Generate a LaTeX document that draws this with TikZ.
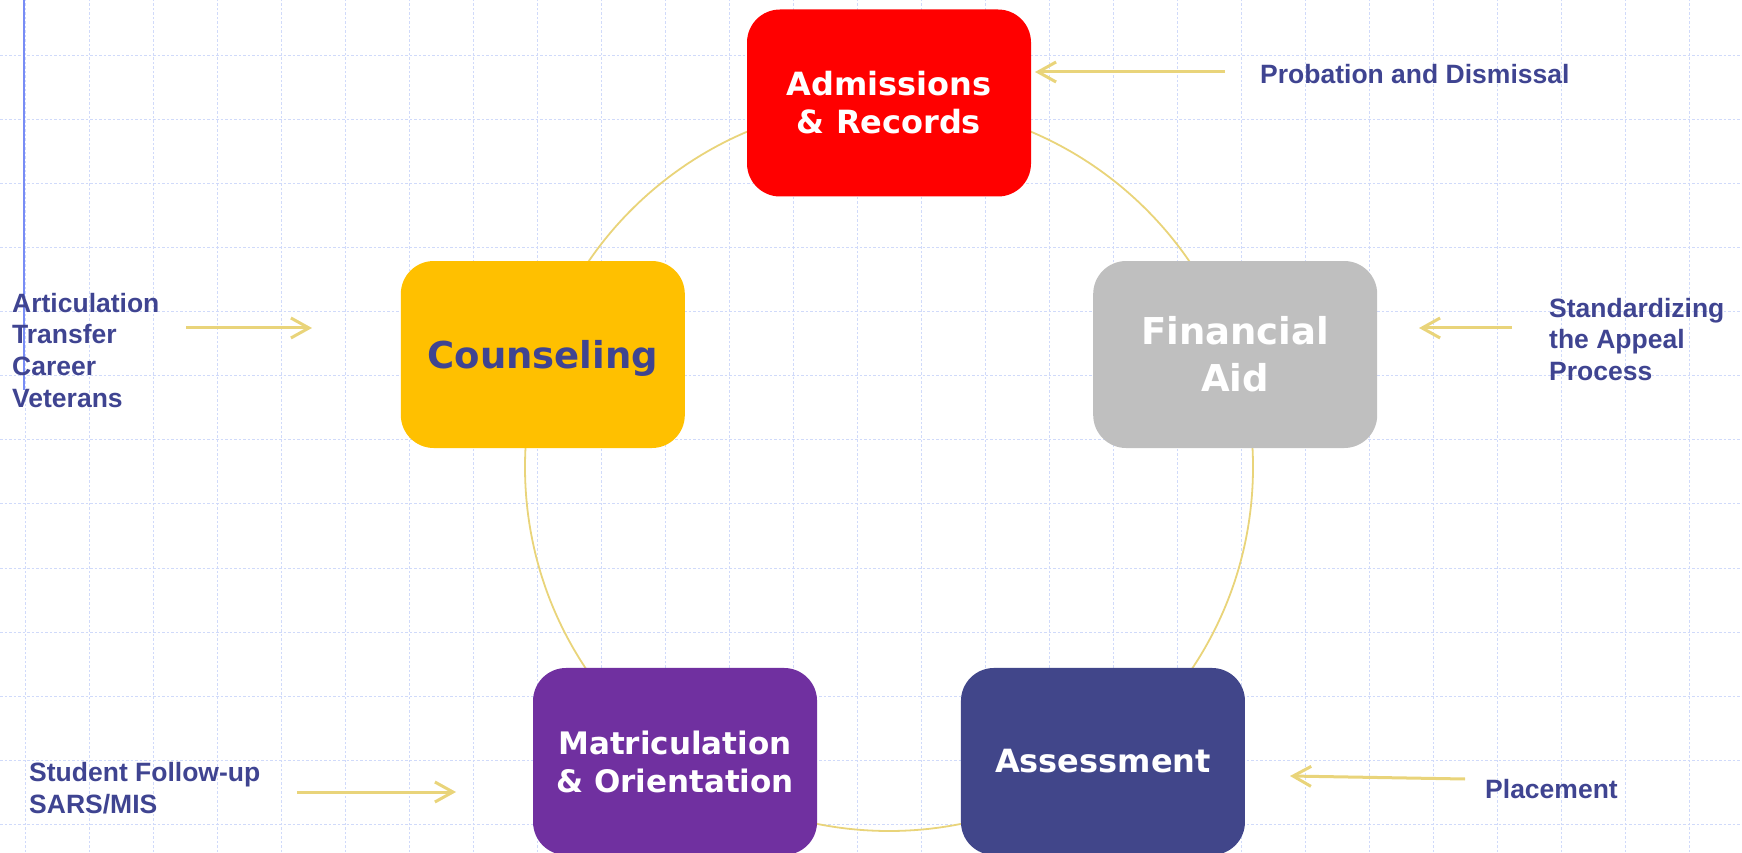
\documentclass[tikz,border=0pt]{standalone}
\usepackage{fontspec}
\setmainfont{Liberation Sans}
\newfontfamily\boxfont{DejaVu Sans}
\usetikzlibrary{arrows.meta,positioning}
\definecolor{navy}{RGB}{63,68,145}
\definecolor{gold}{RGB}{233,212,122}
\definecolor{gridblue}{RGB}{208,218,250}
\definecolor{edgeblue}{RGB}{120,140,245}
\definecolor{amber}{RGB}{255,192,0}
\definecolor{plum}{RGB}{112,48,160}
\definecolor{indigo}{RGB}{65,70,138}
\definecolor{silver}{RGB}{191,191,191}
\tikzset{
	unit/.style={rectangle, rounded corners=33pt, minimum width=284pt, minimum height=187pt,
		align=center, text=white, font=\boxfont\bfseries\fontsize{32}{38}\selectfont},
	bigunit/.style={unit, font=\boxfont\bfseries\fontsize{37}{47}\selectfont},
	note/.style={inner sep=0pt, align=left, text=navy, font=\bfseries\fontsize{26.5}{31.6}\selectfont},
	feed/.style={draw=gold, line width=3pt, -{Straight Barb[length=18pt,width=20pt]}},
	ring/.style={draw=gold, line width=1.8pt},
	gridline/.style={draw=gridblue, line width=1pt, dash pattern=on 2.5pt off 2pt}
}
\begin{document}
\begin{tikzpicture}[x=1pt, y=1pt]
	\useasboundingbox (0,0) rectangle (1742,852);
	\clip (0,0) rectangle (1742,852);
	\foreach \gx in {25,89,...,1742} \draw[gridline] (\gx,0) -- (\gx,852);
	\foreach \gy in {28,92,...,800} \draw[gridline] (0,\gy) -- (1742,\gy);
	\draw[edgeblue, line width=2pt] (24,852) -- (24,462);

	\coordinate (O) at (889,385);
	\draw[ring] (O) circle[radius=364];

	\node[unit, fill=red]									(AR)	at ([shift={(90:364)}]O)	{Admissions\\\& Records};
	\node[bigunit, fill=amber, text=navy, text depth=0pt]	(CO)	at ([shift={(162:364)}]O)	{Counseling};
	\node[bigunit, fill=silver]						(FA)	at ([shift={(18:364)}]O)	{Financial\\Aid};
	\node[unit, fill=plum, font=\boxfont\bfseries\fontsize{31}{38}\selectfont]	(MO)	at ([shift={(234:364)}]O)	{Matriculation\\\& Orientation};
	\node[unit, fill=indigo]							(AS)	at ([shift={(306:364)}]O)	{Assessment};

	\node[note, anchor=north west]	(PD)	at (1260,788)	{Probation and Dismissal};
	\node[note, anchor=north west]	(ART)	at (12,559)		{Articulation\\Transfer\\Career\\Veterans};
	\node[note, anchor=north west]	(SAP)	at (1549,554)	{Standardizing\\the Appeal\\Process};
	\node[note, anchor=north west]	(SFU)	at (29,90)		{Student Follow-up\\SARS/MIS};
	\node[note, anchor=north west]	(PL)	at (1485,73)	{Placement};

	\coordinate (pd-t) at (1225,780);	\coordinate (pd-h) at (1035,780);
	\coordinate (art-t) at (186,524);	\coordinate (art-h) at (312,524);
	\coordinate (sap-t) at (1512,524);	\coordinate (sap-h) at (1419,524);
	\coordinate (sfu-t) at (297,60);	\coordinate (sfu-h) at (456,60);
	\coordinate (pl-t) at (1465,73);	\coordinate (pl-h) at (1290,76);
	\draw[feed]	(pd-t)	--	(pd-h);
	\draw[feed]	(art-t)	--	(art-h);
	\draw[feed]	(sap-t)	--	(sap-h);
	\draw[feed]	(sfu-t)	--	(sfu-h);
	\draw[feed]	(pl-t)	--	(pl-h);
\end{tikzpicture}
\end{document}
